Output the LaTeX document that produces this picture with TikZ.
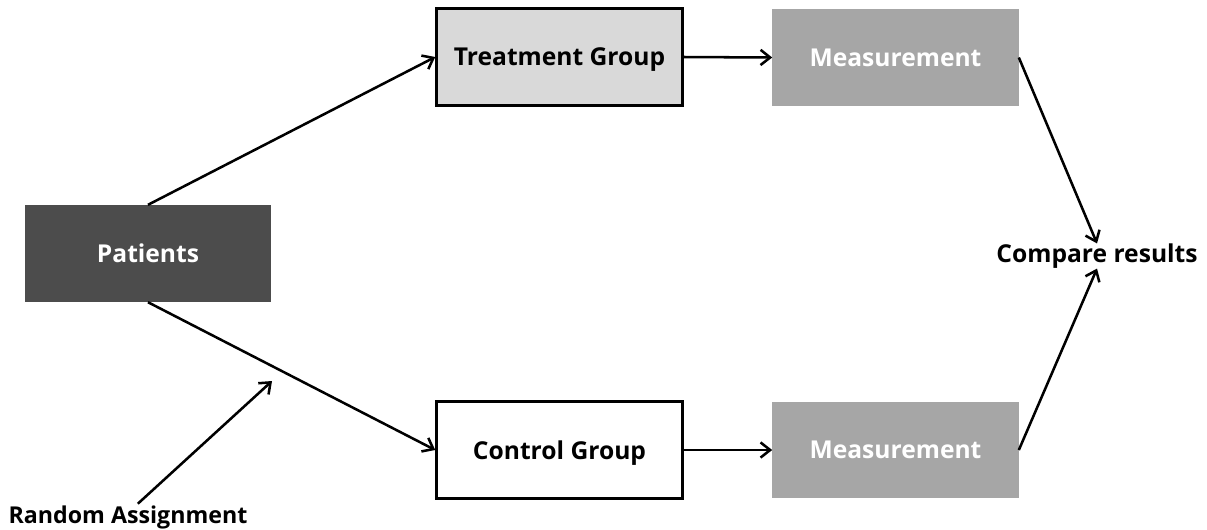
\documentclass[tikz,border=0pt]{standalone}
\usepackage{fontspec}
\setmainfont{Open Sans}
\usepackage{tikz}
\usetikzlibrary{arrows.meta}

\begin{document}
\begin{tikzpicture}[x=0.025cm, y=-0.025cm,
		box/.style={minimum width=6.15cm, minimum height=2.42cm, inner sep=0pt, text depth=0pt, font=\fontsize{17.5}{20}\selectfont\bfseries},
		lbl/.style={inner sep=1pt, font=\fontsize{17.5}{20}\selectfont\bfseries},
		arr/.style={line width=1.8pt, -{Straight Barb[length=2.4mm, width=3.8mm]}}]
			%%%%% START %%%%%
			
			\useasboundingbox (0, 0) rectangle (1207, 529);
			
			\node[box, fill=black!70, text=white] (patients) at (148, 253.5) {Patients};
			
			\node[box, fill=black!15, draw=black, line width=1.8pt] (treat) at (559.5, 57) {Treatment Group};
			\node[box, fill=white, draw=black, line width=1.8pt] (ctrl) at (559.5, 450) {Control Group};
			
			\node[box, fill=black!35, text=white] (meastop) at (895.5, 57.5) {Measurement};
			\node[box, fill=black!35, text=white] (measbot) at (895.5, 450) {Measurement};
			
			\node[lbl] (cmp) at (1097, 256) {Compare results};
			\node[lbl, font=\fontsize{16.5}{20}\selectfont\bfseries] (rand) at (128, 517) {Random Assignment};
			\coordinate (mid) at (272, 381);
			
			\draw[arr] (patients.north) -- (treat.west);
			\draw[arr] (patients.south) -- (ctrl.west);
			\draw[arr] (treat.east) -- (meastop.west);
			\draw[arr] (ctrl.east) -- (measbot.west);
			\draw[arr] (meastop.east) -- ([yshift=-1pt]cmp.north);
			\draw[arr] (measbot.east) -- ([yshift=1pt]cmp.south);
			\draw[arr] ([xshift=7]rand.north) -- (mid);
			
			%%%%% END %%%%%
		\end{tikzpicture}
\end{document}
